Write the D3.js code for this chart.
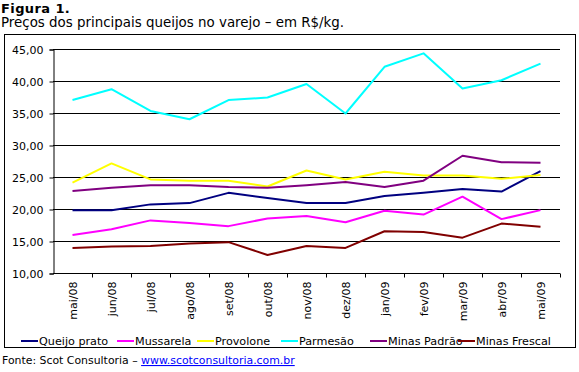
<!DOCTYPE html>
<html>
<head>
<meta charset="utf-8">
<script src="https://cdn.jsdelivr.net/npm/d3@7"></script>
<style>
  body { margin: 0; background: #fff; }
  svg text { font-family: Verdana, "DejaVu Sans", sans-serif; fill: #000; }
  .grid { stroke: #000; stroke-width: 1; }
  .series { fill: none; stroke-width: 2; stroke-linejoin: round; }
</style>
</head>
<body>
<svg class="chart" width="579" height="372"></svg>
<script>
// Months along the bottom
const months = ['mai/08', 'jun/08', 'jul/08', 'ago/08', 'set/08', 'out/08', 'nov/08',
  'dez/08', 'jan/09', 'fev/09', 'mar/09', 'abr/09', 'mai/09'];

// Prices in R$/kg
const queijoPrato = [19.9, 19.9, 20.8, 21.0, 22.6, 21.8, 21.0, 21.0, 22.1, 22.6, 23.2, 22.8, 26.0];
const mussarela = [16.0, 16.9, 18.3, 17.9, 17.4, 18.6, 19.0, 18.0, 19.8, 19.2, 22.0, 18.5, 19.9];
const provolone = [24.2, 27.2, 24.7, 24.5, 24.5, 23.6, 26.1, 24.7, 25.9, 25.3, 25.3, 24.8, 25.4];
const parmesao = [37.1, 38.8, 35.4, 34.1, 37.1, 37.5, 39.6, 35.0, 42.3, 44.4, 38.9, 40.2, 42.8];
const minasPadrao = [22.9, 23.4, 23.8, 23.8, 23.5, 23.4, 23.8, 24.3, 23.5, 24.5, 28.4, 27.4, 27.3];
const minasFrescal = [14.0, 14.2, 14.3, 14.7, 14.9, 12.9, 14.3, 14.0, 16.6, 16.5, 15.6, 17.8, 17.3];

const seriesNames = ['Queijo prato', 'Mussarela', 'Provolone', 'Parmesão', 'Minas Padrão', 'Minas Frescal'];
const seriesColors = ['#000080', '#ff00ff', '#ffff00', '#00ffff', '#800080', '#800000'];
const yTicks = [10, 15, 20, 25, 30, 35, 40, 45];

const series = [queijoPrato, mussarela, provolone, parmesao, minasPadrao, minasFrescal]
  .map((values, i) => ({ name: seriesNames[i], color: seriesColors[i], values: values }));

const svg = d3.select('svg.chart');

const x = d3.scaleBand() // one band per month
  .domain(months)
  .range([53, 560]);

const y = d3.scaleLinear()
  .domain([10, 45])
  .range([273.5, 49.5]);

// Titles above the chart
svg.append('text')
  .attr('x', 1)
  .attr('y', 12.5)
  .style('font-size', '13px')
  .style('font-weight', 'bold')
  .style('letter-spacing', '0.4px')
  .text('Figura 1.');

svg.append('text')
  .attr('x', 1)
  .attr('y', 27)
  .style('font-size', '13.4px')
  .text('Preços dos principais queijos no varejo – em R$/kg.');

// Chart frame
svg.append('rect')
  .attr('x', 4.5)
  .attr('y', 34.5)
  .attr('width', 571)
  .attr('height', 313)
  .attr('fill', 'none')
  .attr('stroke', '#000');

// Horizontal gridlines
svg.append('g')
  .selectAll('line')
  .data(yTicks.slice(1))
  .enter()
  .append('line')
  .attr('class', 'grid')
  .attr('x1', 53)
  .attr('x2', 560)
  .attr('y1', d => y(d))
  .attr('y2', d => y(d));

// Y axis
const yAxis = svg.append('g')
  .attr('transform', 'translate(53.5,0)')
  .call(d3.axisLeft(y)
    .tickValues(yTicks)
    .tickSize(4)
    .tickFormat(d => d3.format('.2f')(d).replace('.', ',')));

yAxis.selectAll('text')
  .style('font-size', '11px')
  .style('font-family', 'Verdana, "DejaVu Sans", sans-serif')
  .attr('x', -10)
  .attr('dy', '0.36em');

// X axis with ticks between the months
const xAxis = svg.append('g')
  .attr('transform', 'translate(0,273.5)');

xAxis.append('line')
  .attr('class', 'grid')
  .attr('x1', 53)
  .attr('x2', 560);

xAxis.selectAll('line.tick')
  .data(months)
  .enter()
  .append('line')
  .attr('class', 'grid tick')
  .attr('x1', d => Math.round(x(d) + x.bandwidth()) + 0.5)
  .attr('x2', d => Math.round(x(d) + x.bandwidth()) + 0.5)
  .attr('y1', 0)
  .attr('y2', 4);

xAxis.selectAll('text')
  .data(months)
  .enter()
  .append('text')
  .attr('transform', d => `translate(${x(d) + x.bandwidth() / 2 + 4},8) rotate(-90)`)
  .attr('text-anchor', 'end')
  .style('font-size', '11px')
  .text(d => d);

// Lines for each cheese
const line = d3.line()
  .x((d, i) => x(months[i]) + x.bandwidth() / 2)
  .y(d => y(d));

svg.append('g')
  .selectAll('path')
  .data(series)
  .enter()
  .append('path')
  .attr('class', 'series')
  .attr('stroke', d => d.color)
  .attr('d', d => line(d.values));

// Legend along the bottom of the frame
const legendX = [21, 117, 197, 281, 370, 458];

const legend = svg.append('g')
  .selectAll('g')
  .data(series)
  .enter()
  .append('g')
  .attr('transform', (d, i) => `translate(${legendX[i]},341)`);

legend.append('line')
  .attr('x1', 0)
  .attr('x2', 17)
  .attr('y1', 0)
  .attr('y2', 0)
  .attr('stroke', d => d.color)
  .attr('stroke-width', 2);

legend.append('text')
  .attr('x', 18)
  .attr('y', 4)
  .style('font-size', '11.2px')
  .text(d => d.name);

// Source line
const source = svg.append('text')
  .attr('x', 2)
  .attr('y', 364)
  .style('font-size', '10.9px');

source.append('tspan')
  .text('Fonte: Scot Consultoria – ');

source.append('tspan')
  .style('fill', '#0000ff')
  .style('text-decoration', 'underline')
  .text('www.scotconsultoria.com.br');
</script>
</body>
</html>
